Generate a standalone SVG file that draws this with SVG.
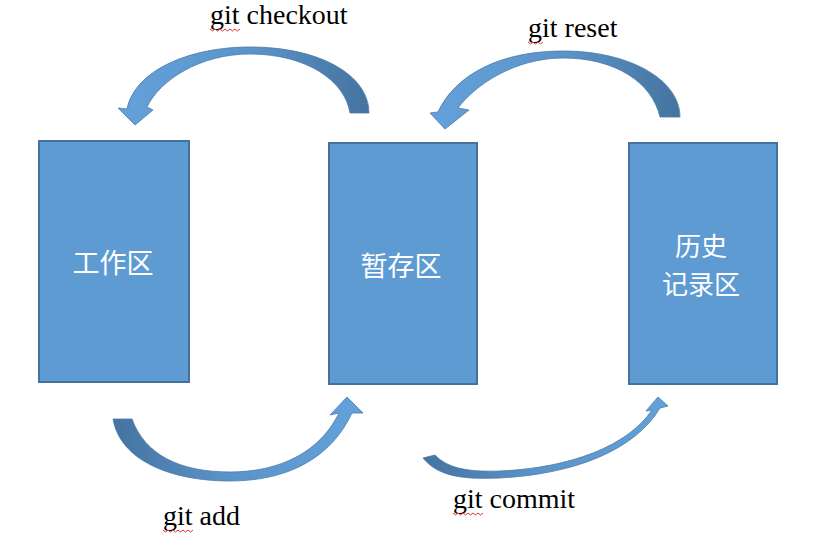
<svg xmlns="http://www.w3.org/2000/svg" width="814" height="542" viewBox="0 0 814 542">
<defs>
<linearGradient id="gL2D" x1="0" y1="0" x2="1" y2="0">
<stop offset="0" stop-color="#64a1da"/>
<stop offset="0.55" stop-color="#5a93c9"/>
<stop offset="1" stop-color="#44739f"/>
</linearGradient>
<linearGradient id="gD2L" x1="0" y1="0" x2="1" y2="0">
<stop offset="0" stop-color="#44739f"/>
<stop offset="0.45" stop-color="#5a93c9"/>
<stop offset="1" stop-color="#64a1da"/>
</linearGradient>
<style>
.box{fill:#5e9bd3;stroke:#44729c;stroke-width:2}
.lbl{font-family:"Noto Sans CJK SC","Noto Sans",sans-serif;font-size:27px;fill:#ffffff;text-anchor:middle}
.lbl2{font-family:"Noto Sans CJK SC","Noto Sans",sans-serif;font-size:26px;fill:#ffffff;text-anchor:middle}
.cmd{font-family:"Liberation Serif","Times New Roman",serif;font-size:28px;fill:#000000}
.arr{stroke:#4a7aa8;stroke-width:0.8;stroke-linejoin:round}
.sq{fill:none;stroke:#e03030;stroke-width:1}
</style>
</defs>
<g id="node-work">
<rect class="box" x="39" y="141" width="150" height="241"/>
<text class="lbl" x="113" y="273">工作区</text>
</g>
<g id="node-stage">
<rect class="box" x="329" y="143" width="148" height="241"/>
<text class="lbl" x="401" y="276">暂存区</text>
</g>
<g id="node-history">
<rect class="box" x="629" y="143" width="148" height="241"/>
<text class="lbl2" x="701" y="256">历史</text>
<text class="lbl2" x="701" y="294">记录区</text>
</g>
<g id="connectors">
<path class="arr" fill="url(#gL2D)" d="M369,113 C369,75 320,47 250,47 C190,47 135,70 127,109 L118,108 L135,125 L153,110 L147,107 C160,80 200,54 250,54 C305,54 345,80 350,113 Z"/>
<path class="arr" fill="url(#gL2D)" d="M680,117 C680,80 630,51 563,51 C500,51 455,75 438,112 L430,113 L445,129 L469,110 L458,108 C475,85 515,58 563,58 C615,58 652,82 660,117 Z"/>
<path class="arr" fill="url(#gD2L)" d="M113,419 C120,460 170,481 230,481 C285,481 330,460 352,413 L363,413 L347,397 L330,415 L339,413 C320,452 280,472 230,472 C180,472 145,455 132,419 Z"/>
<path class="arr" fill="url(#gD2L)" d="M423,458 C440,479 470,479 500,478 C575,474 635,450 660,408 L668,406 L658,397 L646,411 L652,410 C628,446 570,468 500,471 C470,472 448,469 435,455 Z"/>
</g>
<g id="labels">
<text class="cmd" x="210" y="24">git checkout</text>
<path class="sq" d="M210,29 l2.5,2 l2.5,-2 l2.5,2 l2.5,-2 l2.5,2 l2.5,-2 l2.5,2 l2.5,-2 l2.5,2 l2.5,-2 l2.5,2 l2.5,-2"/>
<text class="cmd" x="528" y="37">git reset</text>
<path class="sq" d="M528,42 l2.5,2 l2.5,-2 l2.5,2 l2.5,-2 l2.5,2 l2.5,-2"/>
<text class="cmd" x="163" y="525">git add</text>
<path class="sq" d="M163,530 l2.5,2 l2.5,-2 l2.5,2 l2.5,-2 l2.5,2 l2.5,-2 l2.5,2 l2.5,-2 l2.5,2 l2.5,-2 l2.5,2 l2.5,-2"/>
<text class="cmd" x="453" y="508">git commit</text>
<path class="sq" d="M453,513 l2.5,2 l2.5,-2 l2.5,2 l2.5,-2 l2.5,2 l2.5,-2 l2.5,2 l2.5,-2 l2.5,2 l2.5,-2 l2.5,2 l2.5,-2"/>
</g>
</svg>
